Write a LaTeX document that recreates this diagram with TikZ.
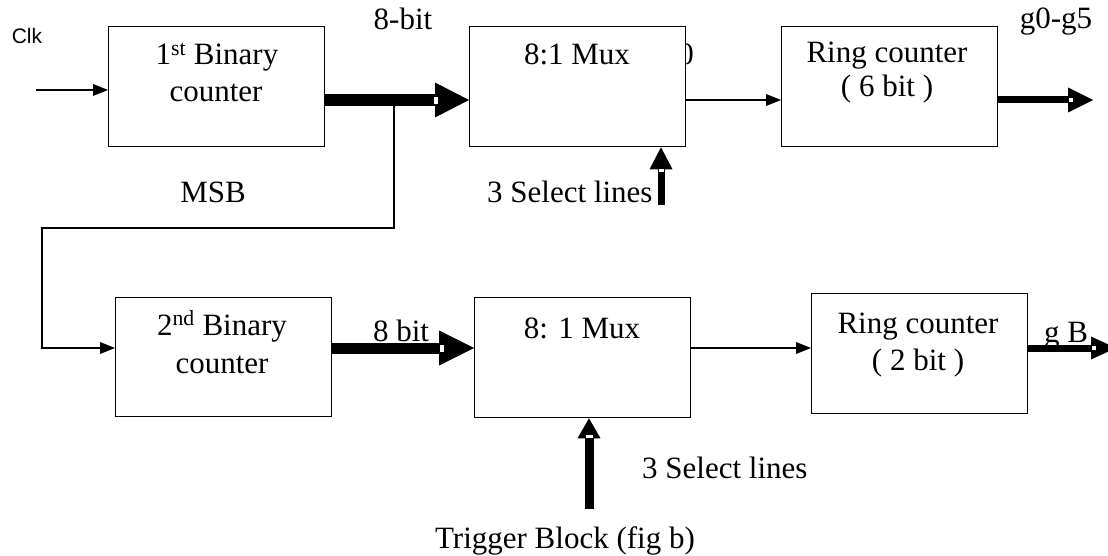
\documentclass[tikz,border=0pt]{standalone}
\usepackage{fontspec}
\setmainfont{Liberation Serif}
\newfontfamily\clkfont{Liberation Sans}
\usetikzlibrary{arrows.meta}
\begin{document}
\begin{tikzpicture}[x=1pt,y=-1pt,
  blk/.style={draw, line width=1.3pt, fill=white, inner sep=0pt,
    minimum width=216pt, minimum height=120pt, anchor=north west},
  txt/.style={inner sep=0pt, anchor=base, font=\fontsize{31}{37}\selectfont},
  wire/.style={line width=1.2pt, -{Triangle[length=15pt,width=12pt,line width=0pt]}},
  bushead/.style 2 args={-{Triangle[length=#1,width=#2,line width=0pt]}},
  notch/.style={fill=white, draw, line width=0.6pt}]
\useasboundingbox (0,0) rectangle (1108,556);

% bus rows
\coordinate (r1) at (0,100);
\coordinate (r2) at (0,348);

% stray digit partly hidden by the first multiplexer
\node[txt, anchor=base east] (zero) at (694,65) {0};

% blocks
\node[blk] (b1) at (108,26) {};
\node[blk] (m1) at (469,26) {};
\node[blk] (c1) at (781,26) {};
\node[blk, minimum height=119pt] (b2) at (115,297) {};
\node[blk] (m2) at (474,297) {};
\node[blk] (c2) at (811,293) {};

% block texts
\node[txt] (b1t1) at (217,65) {1\textsuperscript{st} Binary};
\node[txt] (b1t2) at (216,102) {counter};
\node[txt] (m1t) at (577,65) {8:1 Mux};
\node[txt] (c1t1) at (887,63) {Ring counter};
\node[txt] (c1t2) at (887,97) {( 6 bit )};
\node[txt] (b2t1) at (222,335) {2\textsuperscript{nd} Binary};
\node[txt] (b2t2) at (222,373) {counter};
\node[txt] (m2t) at (582,338) {8: 1 Mux};
\node[txt] (c2t1) at (918,333) {Ring counter};
\node[txt] (c2t2) at (918,370) {( 2 bit )};

% labels
\node[inner sep=0pt, anchor=base, font=\clkfont\fontsize{21}{24}\selectfont] (clk) at (27,44) {Clk};
\node[txt] (bits1) at (403,30) {8-bit};
\node[txt] (msb) at (213,203) {MSB};
\node[txt] (bits2) at (401,341) {8 bit};
\node[txt, anchor=base west] (sel1) at (487,203) {3 Select lines};
\node[txt, anchor=base west] (sel2) at (642,478) {3 Select lines};
\node[txt] (trig) at (565,548) {Trigger Block (fig b)};
\node[txt] (gout1) at (1056,29) {g0-g5};
\node[txt] (gout2) at (1066,342) {g B};

% free ends of connectors
\coordinate (clkin) at (36,90);
\coordinate (tap) at (394,100);
\coordinate (dropL) at (42,228);
\coordinate (s1) at (661,205);
\coordinate (t1) at (589,509);
\coordinate (g1end) at (1093,100);
\coordinate (g2end) at (1116,348);

% first row
\draw[wire] (clkin) -- (b1.west |- clkin);
\draw[line width=12pt, bushead={34pt}{35pt}] (b1.east |- r1) -- (m1.west |- r1);
\draw[notch] (433,96) rectangle (438,104);
\draw[wire] (m1.east |- r1) -- (c1.west |- r1);
\draw[line width=7pt, bushead={25pt}{25pt}] (c1.east |- r1) -- (g1end);
\draw[notch] (1068,97.5) rectangle (1073,102.5);
\draw[line width=7pt, bushead={22pt}{23pt}] (s1) -- (s1 |- m1.south);
\draw[notch] (658,168) rectangle (664,172);

% MSB feed to the second counter
\draw[line width=1.2pt, -{Triangle[length=15pt,width=12pt,line width=0pt]}]
  (tap) |- (dropL) |- (b2.west |- r2);

% second row
\draw[line width=11pt, bushead={35pt}{35pt}] (b2.east |- r2) -- (m2.west |- r2);
\draw[notch] (439,344) rectangle (444,352);
\draw[wire] (m2.east |- r2) -- (c2.west |- r2);
\draw[line width=7pt, bushead={25pt}{23pt}] (c2.east |- r2) -- (g2end);
\draw[notch] (1091,345.5) rectangle (1096,350.5);
\draw[line width=9pt, bushead={20pt}{23pt}] (t1) -- (t1 |- m2.south);
\draw[notch] (585,434) rectangle (593,438);
\end{tikzpicture}
\end{document}
